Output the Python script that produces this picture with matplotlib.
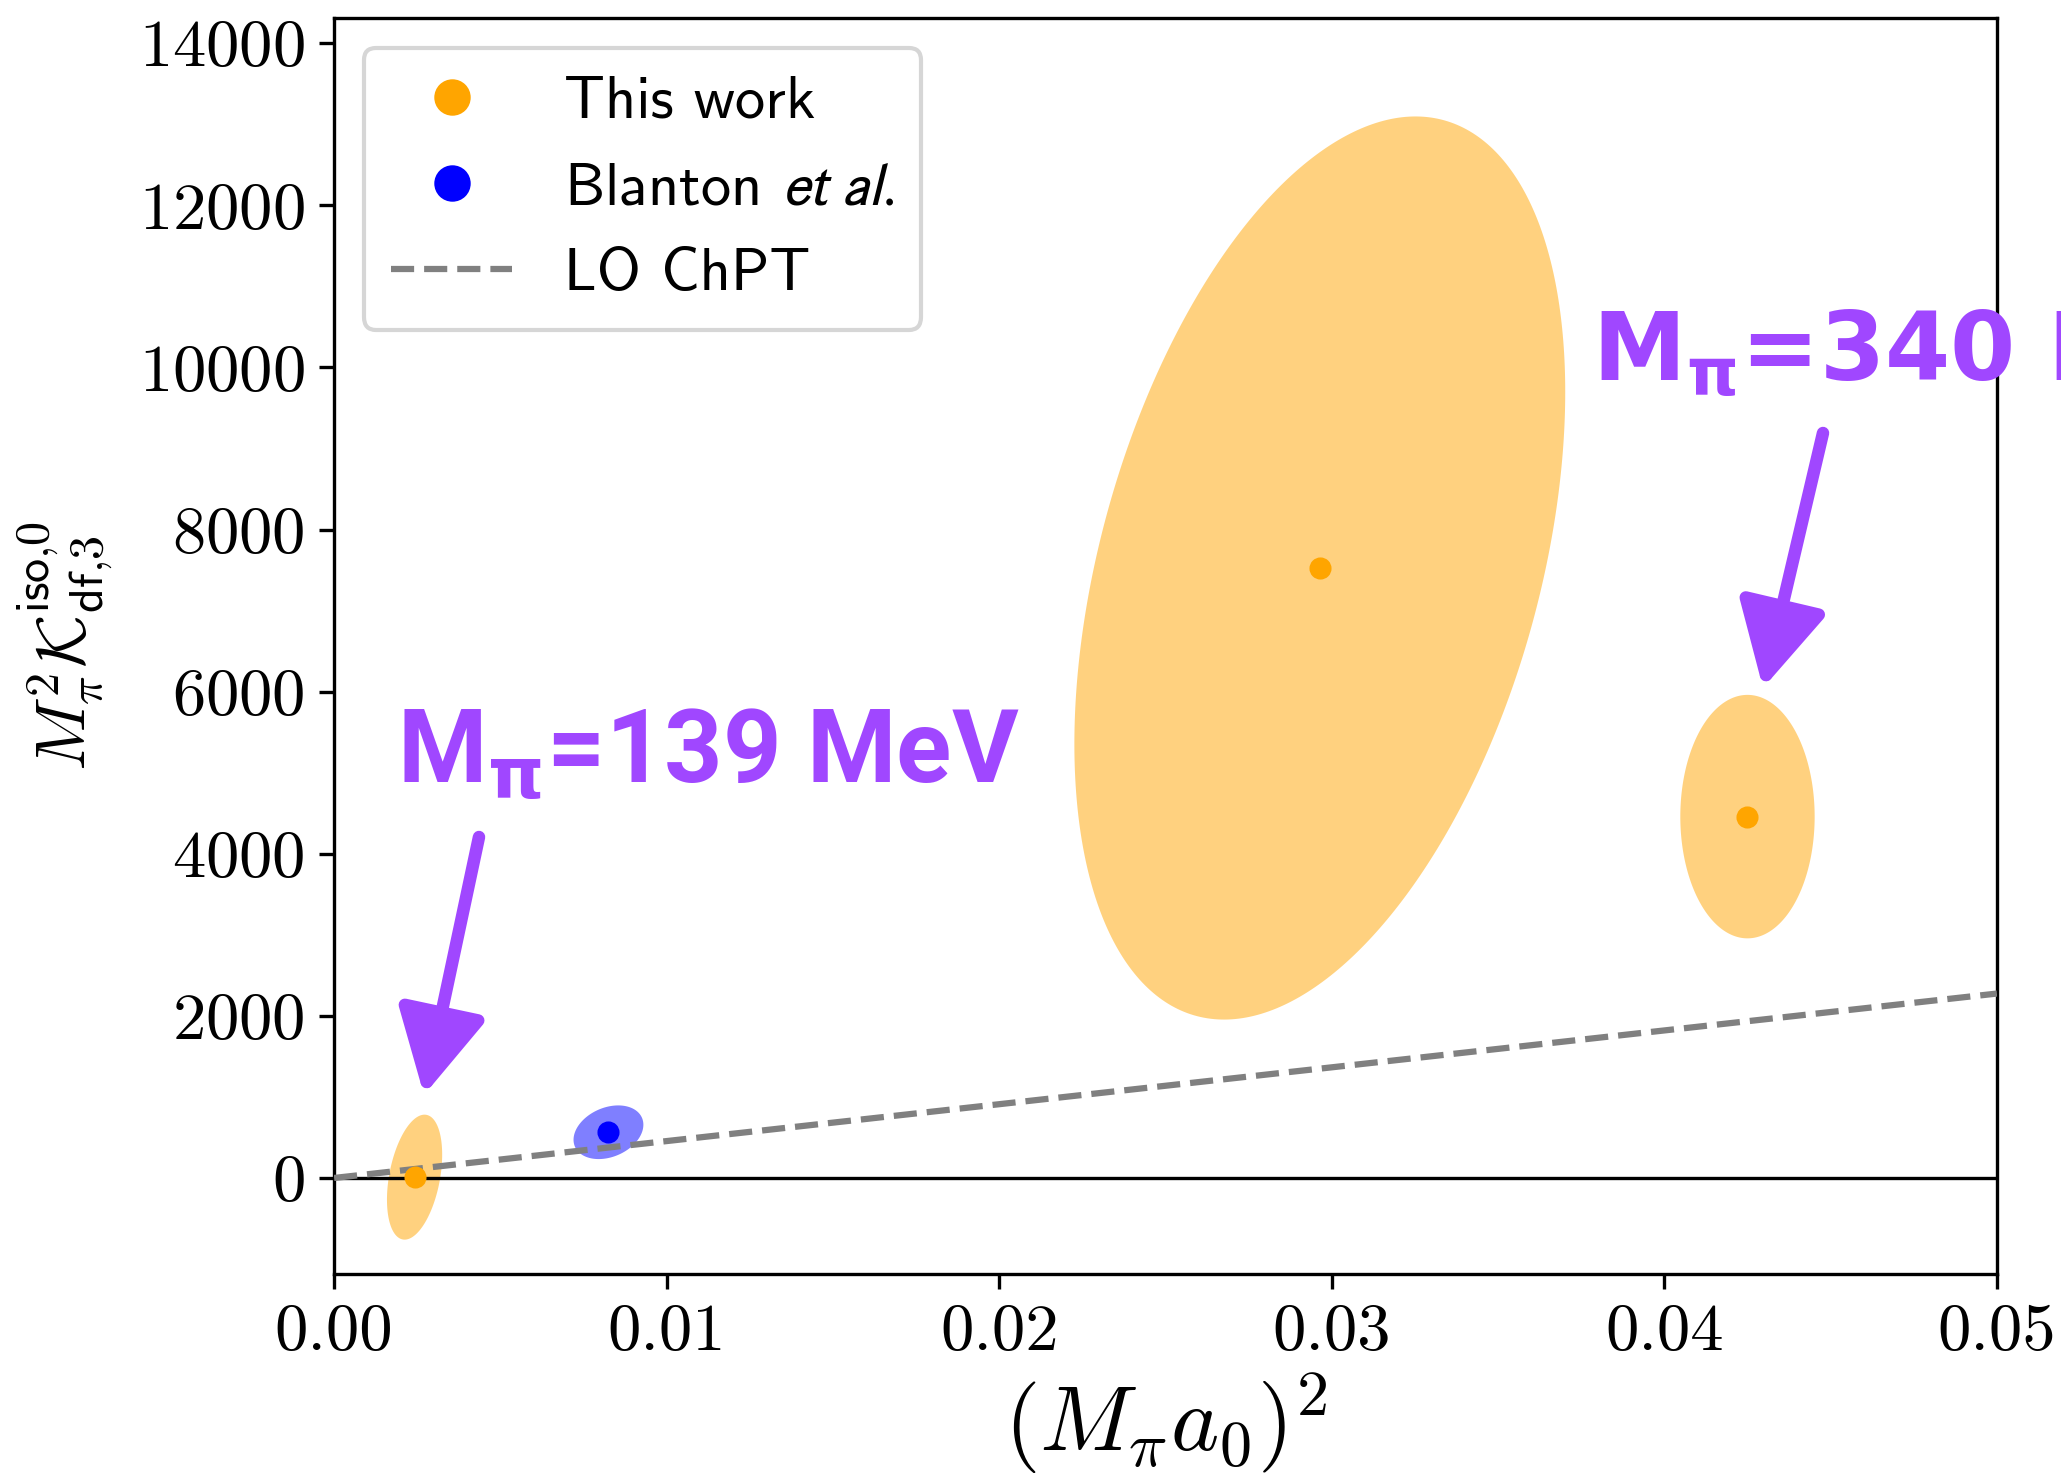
import numpy as np
import matplotlib
matplotlib.use("Agg")
import matplotlib.pyplot as plt
from matplotlib.lines import Line2D
from matplotlib.patches import FancyArrowPatch

plt.rcParams["font.family"] = "serif"
plt.rcParams["font.serif"] = ["cmr10"]
plt.rcParams["mathtext.fontset"] = "cm"
plt.rcParams["axes.formatter.use_mathtext"] = True

# (M_pi a_0)^2 and M_pi^2 K_df,3 with 1-sigma ellipse parameters
this_x = [0.00242, 0.02964, 0.04250]
this_y = [10.0, 7525.0, 4458.0]
this_ex = [0.00083, 0.00738, 0.00202]
this_ey = [771.0, 5571.0, 1502.0]
this_rho = [0.36, 0.39, 0.0]

blanton_x = [0.00825]
blanton_y = [564.0]
blanton_ex = [0.00105]
blanton_ey = [331.0]
blanton_rho = [0.28]

# leading-order chiral prediction (straight line through the origin)
lo_x = [0.0, 0.05]
lo_y = [0.0, 2275.0]

ORANGE = "#FFA500"
BLUE = "#0000FF"
PURPLE = "#A047FF"


def error_ellipse(ax, x0, y0, sx, sy, rho, color):
    t = np.linspace(0, 2 * np.pi, 400)
    ex = x0 + sx * np.cos(t)
    ey = y0 + sy * (rho * np.cos(t) + np.sqrt(1 - rho ** 2) * np.sin(t))
    ax.fill(ex, ey, color=color, alpha=0.5, lw=0, zorder=1)


fig = plt.figure(figsize=(2061 / 300, 1479 / 300), dpi=300)
ax = fig.add_axes([0.1621, 0.1386, 0.8068, 0.8492])

for x0, y0, sx, sy, r in zip(this_x, this_y, this_ex, this_ey, this_rho):
    error_ellipse(ax, x0, y0, sx, sy, r, ORANGE)
for x0, y0, sx, sy, r in zip(blanton_x, blanton_y, blanton_ex, blanton_ey, blanton_rho):
    error_ellipse(ax, x0, y0, sx, sy, r, BLUE)

ax.axhline(0, color="k", lw=0.8, zorder=2)
ax.plot(lo_x, lo_y, ls="--", color="gray", lw=1.5, zorder=3)
ax.plot(this_x, this_y, "o", color=ORANGE, ms=4.3, zorder=4)
ax.plot(blanton_x, blanton_y, "o", color=BLUE, ms=4.3, zorder=4)

ax.set_xlim(0, 0.05)
ax.set_ylim(-1185, 14310)
ax.set_xticks([0.0, 0.01, 0.02, 0.03, 0.04, 0.05])
ax.set_xticklabels(["0.00", "0.01", "0.02", "0.03", "0.04", "0.05"])
ax.set_yticks(np.arange(0, 14001, 2000))
ax.tick_params(labelsize=16)

ax.set_xlabel(r"$(M_\pi a_0)^2$", fontsize=22, labelpad=2)
ax.set_ylabel(r"$M_\pi^2\mathcal{K}_{\mathsf{df{,}3}}^{\mathsf{iso{,}0}}$", fontsize=16.5, labelpad=6)

handles = [
    Line2D([], [], ls="none", marker="o", color=ORANGE, ms=4.3),
    Line2D([], [], ls="none", marker="o", color=BLUE, ms=4.3),
    Line2D([], [], ls="--", color="gray", lw=1.5),
]
labels = ["This work", r"Blanton $et\ al.$", "LO ChPT"]
leg = ax.legend(handles, labels, loc="upper left", markerscale=1.8,
                handlelength=2.0, handletextpad=0.85, labelspacing=0.53,
                borderpad=0.45, prop={"family": "cmss10", "size": 14.5})
for txt in leg.get_texts():
    txt.set_math_fontfamily("stixsans")

# hand-written annotations
fig.text(397 / 2061, 1 - 782 / 1479, r"M$_{\mathbf{\pi}}$=139 MeV", color=PURPLE,
         fontsize=24.5, fontweight="bold", family=["Roboto", "DejaVu Sans"],
         math_fontfamily="dejavusans", ha="left", va="baseline")
fig.text(1592 / 2061, 1 - 380 / 1479, r"M$_{\mathbf{\pi}}$=340 MeV", color=PURPLE,
         fontsize=22.5, fontweight="bold", family=["DejaVu Sans"],
         math_fontfamily="dejavusans", ha="left", va="baseline")

for tail, tip in [((479, 837), (424, 1095)), ((1823, 433), (1763, 688))]:
    arr = FancyArrowPatch(posA=(tail[0] / 2061, 1 - tail[1] / 1479),
                          posB=(tip[0] / 2061, 1 - tip[1] / 1479),
                          transform=fig.transFigure,
                          arrowstyle="-|>,head_length=17,head_width=9",
                          mutation_scale=1, lw=3, color=PURPLE,
                          shrinkA=0, shrinkB=0)
    fig.add_artist(arr)

fig.savefig("out.png", dpi=300)
